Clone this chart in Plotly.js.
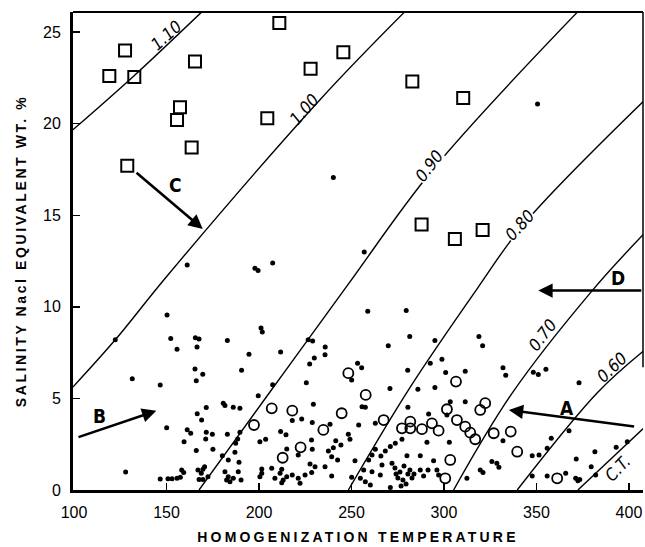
<!DOCTYPE html>
<html><head><meta charset="utf-8">
<script src="https://cdn.plot.ly/plotly-3.0.1.min.js"></script>
<style>
html,body{margin:0;padding:0;background:#fff;}
#chart{width:645px;height:547px;}
.xtitle{letter-spacing:3.2px;}
.ytitle{letter-spacing:2.6px;}
</style></head><body><div id="chart"></div>
<script>
// Open squares
const squareT = [119.1,127.6,132.6,165.4,157.3,155.7,163.6,128.8,211.0,227.9,204.5,245.6,282.9,310.4,287.9,305.9,320.9];
const squareS = [22.6,24.0,22.55,23.4,20.9,20.2,18.7,17.7,25.5,23.0,20.3,23.9,22.3,21.4,14.5,13.7,14.2];

// Open circles
const circleT = [206.9,218.0,244.7,197.3,234.8,222.5,212.8,248.3,306.5,257.7,267.4,301.6,322.3,319.6,281.8,277.3,281.8,288.1,293.5,297.1,307.0,311.5,314.2,316.9,326.9,303.4,300.7,336.1,339.6,361.2];
const circleS = [4.46,4.33,4.19,3.55,3.28,2.33,1.76,6.38,5.92,5.19,3.82,4.41,4.74,4.37,3.73,3.37,3.37,3.32,3.64,3.24,3.82,3.46,3.13,2.77,3.10,1.64,0.64,3.19,2.09,0.64];

// Solid dots
const dotT = [350.6,240.2,256.9,161.2,197.8,199.5,207.4,
 150.3,152.3,155.7,165.6,167.6,166.5,131.5,146.6,165.4,169.6,166.1,122.3,
 182.9,201.1,201.8,194.6,211.7,190.6,226.6,229.0,235.8,235.7,229.9,227.4,207.4,225.6,250.1,253.3,255.5,
 258.8,279.6,281.5,269.9,295.1,318.9,320.9,292.6,298.9,280.4,300.9,311.5,270.8,285.9,295.1,
 331.9,333.4,348.3,351.0,355.1,373.0,
 171.5,166.6,169.0,161.2,163.1,171.5,174.8,159.5,171.2,166.1,175.1,127.9,150.1,146.6,150.8,153.0,155.7,157.5,158.2,159.3,167.0,168.8,169.7,170.6,167.6,169.7,172.4,
 180.7,181.6,186.1,189.7,199.6,229.4,223.1,228.8,238.4,182.9,189.7,188.5,200.5,203.6,211.7,214.6,228.4,228.8,187.4,187.0,215.0,237.5,240.2,241.5,244.3,248.3,249.2,180.2,183.4,189.2,221.2,239.3,242.5,212.3,206.9,201.5,227.6,230.3,235.7,251.9,181.6,183.4,186.1,188.8,184.3,182.5,190.3,200.5,201.5,208.6,211.4,213.1,215.0,212.3,218.0,221.2,222.2,224.9,228.5,239.3,250.1,218.0,
 255.7,257.5,280.5,291.7,303.4,311.5,253.9,262.9,290.8,302.9,277.3,273.7,271.0,268.3,265.9,262.9,261.1,259.3,280.0,287.2,294.4,266.5,271.9,256.6,261.1,265.6,254.8,257.5,260.2,273.5,276.2,278.4,280.5,275.1,277.8,281.6,282.7,274.1,279.5,283.8,276.8,271.0,287.2,289.0,291.4,296.2,297.1,312.4,319.6,321.1,325.9,328.6,301.6,
 331.9,329.7,367.6,358.0,355.8,347.7,351.4,381.6,393.1,399.1,371.5,379.6,347.7,355.8,365.8,371.2,373.4,372.4,382.0];
const dotS = [21.07,17.06,12.99,12.29,12.11,11.99,12.39,
 9.56,8.27,7.69,8.32,8.25,7.81,6.08,5.74,6.61,6.32,5.96,8.20,
 8.16,8.84,8.63,7.41,7.54,6.54,8.20,8.14,7.81,7.38,7.21,6.88,5.75,5.85,6.01,6.92,6.68,
 9.76,9.80,8.38,7.88,8.16,8.38,7.88,6.92,7.14,6.54,6.41,6.49,5.54,5.50,5.59,
 6.67,6.27,6.43,6.30,6.60,5.85,
 4.50,4.17,3.82,3.29,3.10,3.15,3.04,2.64,2.79,2.15,2.22,0.98,3.40,0.60,0.62,0.62,0.64,0.69,1.09,0.95,1.09,0.91,1.13,1.27,0.58,0.58,0.73,
 4.74,4.61,4.52,4.46,5.15,4.68,3.88,3.68,3.59,3.04,3.15,2.79,2.64,2.77,3.19,3.01,2.73,2.22,2.55,2.06,2.24,2.13,2.31,2.69,2.46,3.04,2.77,1.87,1.64,1.51,1.91,1.82,1.64,1.13,1.19,1.15,1.42,1.27,1.27,1.60,1.00,0.73,0.64,1.00,0.45,0.55,0.55,0.73,0.91,0.64,0.91,0.55,0.73,0.40,0.82,0.64,0.37,0.82,0.95,0.77,0.69,3.79,
 4.55,4.52,4.52,4.15,4.82,4.82,3.55,3.64,2.61,2.61,2.77,2.55,2.37,2.13,1.86,2.22,1.91,1.64,1.87,1.87,1.60,1.37,1.46,1.09,1.00,0.82,0.64,0.45,0.27,1.20,0.98,1.31,0.87,0.66,0.55,1.09,0.66,0.87,0.33,0.87,0.22,0.13,1.09,0.77,1.09,1.09,0.82,0.64,1.09,0.95,1.55,1.46,4.10,
 2.69,1.24,3.24,2.82,2.28,1.87,1.91,2.09,2.33,2.64,1.69,1.27,0.77,0.77,0.91,0.64,0.58,0.51,0.82];

// Density isopleths (g/cm3) and critical temperature curve
const iso110T = [99.4,131.9,169.2], iso110S = [19.67,22.57,26.12];
const iso100T = [99.4,122.3,150.1,233.0,278.9], iso100S = [5.62,8.20,11.66,21.31,26.12];
const iso090T = [167.6,207.0,248.0,294.0,372.4], iso090S = [0,5.5,11.2,17.5,26.12];
const iso080T = [248.3,281.0,318.0,343.0,408.6], iso080S = [0,5.5,11.0,14.5,21.3];
const iso070T = [305.2,336.6,380.5,408.6], iso070S = [0,5.25,10.93,14.04];
const iso060T = [339.6,383.3,408.6], iso060S = [0,5.35,7.65];
const isoCTT = [372.4,408.6], isoCTS = [0,3.44];

const isoLabels = ['1.10','1.00','0.90','0.80','0.70','0.60','C.T.'];
const isoLabelT = [150.0,224.5,291.9,341.1,353.1,391.0,394.1];
const isoLabelS = [24.85,20.80,17.70,14.45,8.49,6.70,1.18];
const isoLabelAngle = [-42,-49,-53,-48,-53,-44,-46];

// Trend arrows: head (x,y) and tail (ax,ay)
const arrowNames = ['A','B','C','D'];
const arrowHeadT = [335.1,144.5,169.6,351.0], arrowHeadS = [4.37,4.33,14.25,10.89];
const arrowTailT = [403.6,101.6,133.0,407.5], arrowTailS = [3.46,2.86,17.39,10.89];
const arrowLabelT = [366.6,113.9,154.6,393.9], arrowLabelS = [4.46,4.04,16.67,11.57];

const xTicks = [100,150,200,250,300,350,400];
const yTicks = [0,5,10,15,20,25];

const lineStyle = {color:'#000', width:1.4, shape:'spline', smoothing:1.0};
const isoSets = [[iso110T,iso110S],[iso100T,iso100S],[iso090T,iso090S],[iso080T,iso080S],[iso070T,iso070S],[iso060T,iso060S],[isoCTT,isoCTS]];
const traces = isoSets.map(([t,s]) => ({x:t, y:s, mode:'lines', line:lineStyle, hoverinfo:'skip', showlegend:false}));
traces.push({x:dotT, y:dotS, mode:'markers', marker:{symbol:'circle', size:5, color:'#000'}, showlegend:false, cliponaxis:false});
traces.push({x:circleT, y:circleS, mode:'markers', marker:{symbol:'circle-open', size:10, color:'#000', line:{width:1.8, color:'#000'}}, showlegend:false});
traces.push({x:squareT, y:squareS, mode:'markers', marker:{symbol:'square-open', size:12, color:'#000', line:{width:2, color:'#000'}}, showlegend:false});

const annotations = [];
isoLabels.forEach((t,i) => {
  annotations.push({x:isoLabelT[i], y:isoLabelS[i], xref:'x', yref:'y', text:t, showarrow:false,
    textangle:isoLabelAngle[i], bgcolor:(i===2||i===3)?'#fff':'rgba(0,0,0,0)', borderpad:0,
    font:{family:'Liberation Sans Narrow, DejaVu Sans Condensed, Liberation Sans', size:17, style:'italic', color:'#000'}});
});
arrowNames.forEach((n,i) => {
  annotations.push({x:arrowHeadT[i], y:arrowHeadS[i], ax:arrowTailT[i], ay:arrowTailS[i], axref:'x', ayref:'y', xref:'x', yref:'y',
    text:'', showarrow:true, arrowhead:2, arrowsize:1.1, arrowwidth:2.6, arrowcolor:'#000', standoff:0, startstandoff:0});
  annotations.push({x:arrowLabelT[i], y:arrowLabelS[i], xref:'x', yref:'y', text:n, showarrow:false,
    font:{family:'Liberation Sans Narrow, DejaVu Sans Condensed, Liberation Sans', size:19, weight:'bold', color:'#000'}});
});

const layout = {
  width:645, height:547,
  margin:{l:73, r:2, t:12, b:57},
  paper_bgcolor:'#fff', plot_bgcolor:'#fff',
  font:{family:'Liberation Sans, Arial, sans-serif', color:'#000'},
  xaxis:{range:[99.46,407.6], tickvals:xTicks, ticktext:xTicks.map(String), ticks:'inside', ticklen:7, tickwidth:1.5, tickcolor:'#000',
    showline:true, linewidth:3, linecolor:'#000', showgrid:false, zeroline:false, ticklabelstandoff:6,
    tickfont:{size:16, family:'Liberation Sans, Arial, sans-serif'},
    title:{text:'HOMOGENIZATION TEMPERATURE', standoff:12, font:{size:14, weight:'bold', family:'Liberation Sans, Arial, sans-serif'}}},
  yaxis:{range:[0,26.1], tickvals:yTicks, ticktext:yTicks.map(String), ticks:'inside', ticklen:7, tickwidth:1.5, tickcolor:'#000',
    showline:true, linewidth:3, linecolor:'#000', showgrid:false, zeroline:false, ticklabelstandoff:6,
    tickfont:{size:16, family:'Liberation Sans, Arial, sans-serif'},
    title:{text:'SALINITY Nacl EQUIVALENT WT. %', standoff:14, font:{size:14, weight:'bold', family:'Liberation Sans, Arial, sans-serif'}}},
  shapes:[
    {type:'line', xref:'paper', yref:'paper', x0:0, x1:1, y0:1, y1:1, line:{color:'#000', width:2}},
    {type:'line', xref:'paper', yref:'paper', x0:1, x1:1, y0:0.257, y1:1, line:{color:'#000', width:1.5}}
  ],
  annotations:annotations,
  showlegend:false
};
Plotly.newPlot('chart', traces, layout, {displayModeBar:false, staticPlot:true});
</script></body></html>
